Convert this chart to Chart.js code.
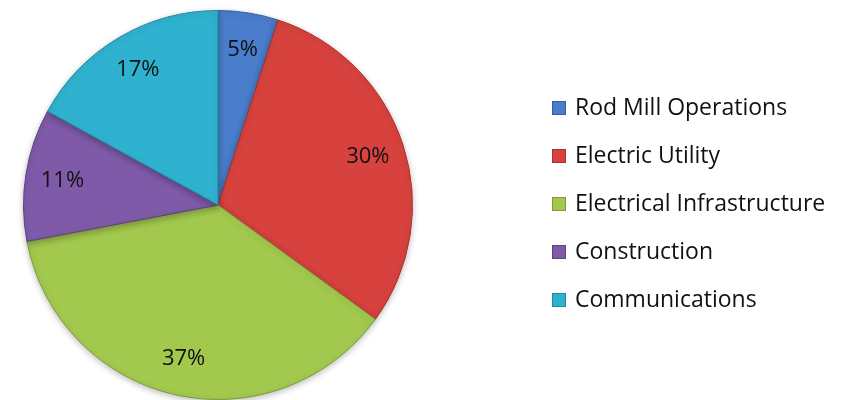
<!DOCTYPE html>
<html>
<head>
<meta charset="utf-8">
<script src="https://cdn.jsdelivr.net/npm/chart.js@4.4.1/dist/chart.umd.min.js"></script>
<style>
  html, body { margin: 0; padding: 0; background: #fff; }
  #wrap { width: 846px; height: 400px; position: relative; }
</style>
</head>
<body>
<div id="wrap"><canvas id="pieChart"></canvas></div>
<script>
// Chart data
const categories = ['Rod Mill Operations', 'Electric Utility', 'Electrical Infrastructure', 'Construction', 'Communications'];
const shares = [5, 30, 37, 11, 17];
const sliceColors = ['#4a7dcb', '#d8423e', '#a2c84e', '#7e5aa8', '#2fb2d0'];
const edgeColors = ['#36609f', '#a8302d', '#7d9a3a', '#5e4282', '#2089a3'];

const FONT = '"Open Sans", Lato, sans-serif';

// percentage labels inside the slices
const sliceLabels = {
    id: 'sliceLabels',
    afterDatasetsDraw(chart) {
        const ctx = chart.ctx;
        const meta = chart.getDatasetMeta(0);
        ctx.save();
        ctx.font = '22px ' + FONT;
        ctx.fillStyle = '#111';
        ctx.textAlign = 'center';
        ctx.textBaseline = 'middle';
        meta.data.forEach((arc, i) => {
            const mid = (arc.startAngle + arc.endAngle) / 2;
            const r = arc.outerRadius * 0.81;
            ctx.fillText(shares[i] + '%', arc.x + Math.cos(mid) * r, arc.y + Math.sin(mid) * r);
        });
        ctx.restore();
    }
};

// legend drawn to the right of the pie
const sideLegend = {
    id: 'sideLegend',
    afterDraw(chart) {
        const ctx = chart.ctx;
        const x0 = 552, y0 = 108, step = 48, box = 14;
        ctx.save();
        ctx.font = '23px ' + FONT;
        ctx.textBaseline = 'middle';
        categories.forEach((name, i) => {
            const y = y0 + i * step;
            ctx.fillStyle = sliceColors[i];
            ctx.fillRect(x0, y - box / 2, box, box);
            ctx.strokeStyle = edgeColors[i];
            ctx.lineWidth = 1;
            ctx.strokeRect(x0 + 0.5, y - box / 2 + 0.5, box - 1, box - 1);
            ctx.fillStyle = '#111';
            ctx.fillText(name, 575, y);
        });
        ctx.restore();
    }
};

// soft shadow behind the pie
const pieShadow = {
    id: 'pieShadow',
    beforeDatasetsDraw(chart) {
        chart.ctx.save();
        chart.ctx.shadowColor = 'rgba(0,0,0,0.25)';
        chart.ctx.shadowBlur = 6;
        chart.ctx.shadowOffsetY = 2;
    },
    afterDatasetsDraw(chart) {
        chart.ctx.restore();
    }
};

new Chart(document.getElementById('pieChart'), {
    type: 'pie',
    data: {
        labels: categories,
        datasets: [{
            data: shares,
            backgroundColor: sliceColors,
            borderColor: edgeColors,
            borderWidth: 1
        }]
    },
    options: {
        responsive: true,
        maintainAspectRatio: false,
        animation: false,
        layout: { padding: { left: 23, right: 433, top: 10, bottom: 0 } },
        plugins: {
            legend: { display: false },
            tooltip: { enabled: false }
        }
    },
    plugins: [pieShadow, sliceLabels, sideLegend]
});
</script>
</body>
</html>
